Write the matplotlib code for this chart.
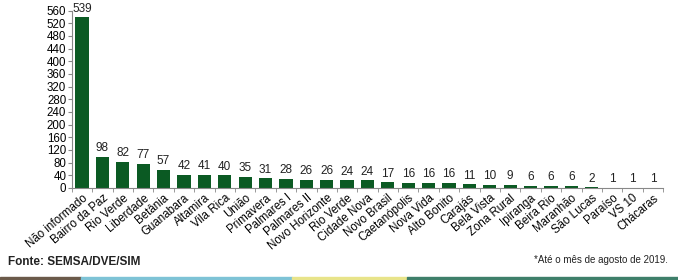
import numpy as np
import matplotlib.pyplot as plt
from matplotlib.patches import Rectangle

plt.rcParams['font.family'] = ['Liberation Sans', 'DejaVu Sans']

bairros = ['Não informado', 'Bairro da Paz', 'Rio Verde', 'Liberdade', 'Betânia',
           'Guanabara', 'Altamira', 'Vila Rica', 'União', 'Primavera', 'Palmares I',
           'Palmares II', 'Novo Horizonte', 'Rio Verde', 'Cidade Nova', 'Novo Brasil',
           'Caetanópolis', 'Nova Vida', 'Alto Bonito', 'Carajás', 'Bela Vista',
           'Zona Rural', 'Ipiranga', 'Beira Rio', 'Maranhão', 'São Lucas', 'Paraíso',
           'VS 10', 'Chácaras']
obitos = [539, 98, 82, 77, 57, 42, 41, 40, 35, 31, 28, 26, 26, 24, 24, 17, 16, 16,
          16, 11, 10, 9, 6, 6, 6, 2, 1, 1, 1]

fig = plt.figure(figsize=(6.78, 2.8), dpi=100)
ax = fig.add_axes([0.106, 0.329, 0.872, 0.633])

x = np.arange(len(bairros))
bars = ax.bar(x, obitos, width=0.65, color='#0b5a23')
for xi, v in zip(x, obitos):
    ax.text(xi, v + 8, str(v), ha='center', va='bottom', fontsize=8.5, color='#222222')

ax.set_xlim(-0.5, len(bairros) - 0.5)
ax.set_ylim(0, 560)
ax.set_yticks(range(0, 561, 40))
ax.tick_params(axis='y', labelsize=8.3, length=3, color='#888888', pad=1)
ax.set_xticks(x)
ax.set_xticklabels(bairros, rotation=40, ha='right', rotation_mode='anchor', fontsize=8.3)
ax.tick_params(axis='x', length=0, pad=3)
ax.set_xticks(np.arange(-0.5, len(bairros), 1), minor=True)
ax.tick_params(axis='x', which='minor', length=3, color='#888888')

for s in ['top', 'right']:
    ax.spines[s].set_visible(False)
for s in ['left', 'bottom']:
    ax.spines[s].set_color('#888888')
    ax.spines[s].set_linewidth(0.8)

fig.text(0.012, 0.055, 'Fonte: SEMSA/DVE/SIM', fontsize=8.5, color='#222222', fontweight='bold')
fig.text(0.985, 0.06, '*Até o mês de agosto de 2019.', fontsize=7, ha='right', color='#222222')

# faixa colorida no rodapé
faixa = [(0.0, 0.12, '#6b5a4a'), (0.12, 0.43, '#7ec3d6'), (0.43, 0.6, '#e8e48a'), (0.6, 1.0, '#3e7f6a')]
for x0, x1, c in faixa:
    fig.patches.append(Rectangle((x0, 0), x1 - x0, 0.012, transform=fig.transFigure, color=c))

fig.savefig('out.png', dpi=100)
